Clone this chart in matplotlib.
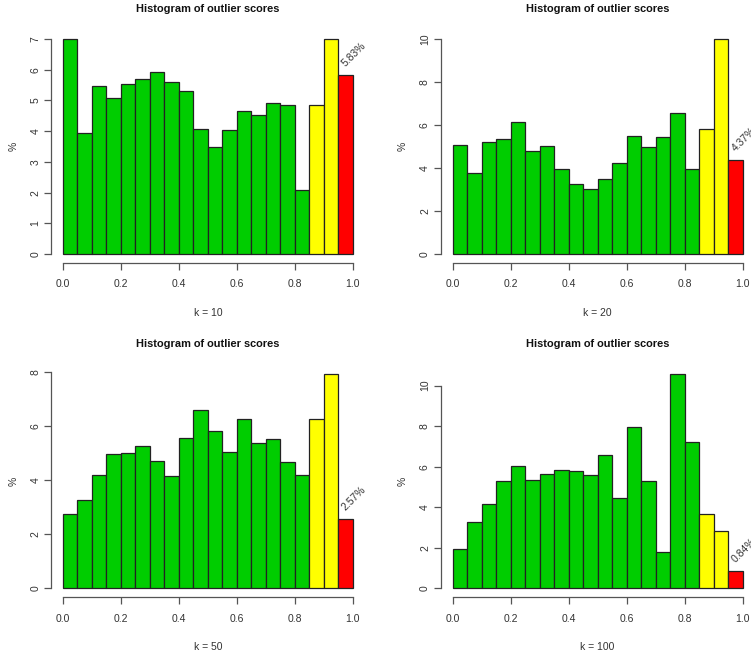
import numpy as np
import matplotlib
matplotlib.use("Agg")
import matplotlib.pyplot as plt

plt.rcParams['font.family'] = ['Liberation Sans', 'DejaVu Sans']

# bin edges of the score histogram (20 bins of width 0.05)
edges = np.linspace(0.0, 1.0, 21)

# percentage of points in each bin, for each k
pct_k10 = [7.00, 3.93, 5.47, 5.07, 5.53, 5.69, 5.91, 5.61, 5.31, 4.07,
           3.47, 4.03, 4.65, 4.52, 4.91, 4.84, 2.07, 4.84, 7.00, 5.83]
pct_k20 = [5.07, 3.78, 5.19, 5.36, 6.12, 4.78, 5.01, 3.95, 3.24, 3.04,
           3.47, 4.22, 5.47, 4.98, 5.44, 6.54, 3.95, 5.80, 10.00, 4.37]
pct_k50 = [2.75, 3.26, 4.19, 4.98, 5.01, 5.25, 4.70, 4.15, 5.56, 6.60,
           5.81, 5.04, 6.26, 5.38, 5.51, 4.67, 4.19, 6.27, 7.95, 2.57]
pct_k100 = [1.92, 3.26, 4.18, 5.28, 6.04, 5.33, 5.66, 5.82, 5.77, 5.58,
            6.55, 4.44, 7.94, 5.28, 1.79, 10.59, 7.20, 3.65, 2.83, 0.84]

k_values = [10, 20, 50, 100]
y_ticks = [[0, 1, 2, 3, 4, 5, 6, 7],
           [0, 2, 4, 6, 8, 10],
           [0, 2, 4, 6, 8],
           [0, 2, 4, 6, 8, 10]]

# colour by score range: normal / suspicious / outlier
bin_colors = ['#00CD00'] * 17 + ['#FFFF00'] * 2 + ['#FF0000']

fig = plt.figure(figsize=(7.51, 6.57), dpi=100)

# plot regions (left, bottom, width, height) in figure fraction
boxes = [(0.0684, 0.6003, 0.4170, 0.3534),
         (0.5873, 0.6003, 0.4170, 0.3534),
         (0.0684, 0.0915, 0.4170, 0.3530),
         (0.5873, 0.0915, 0.4170, 0.3530)]

axis_col = '#555555'
text_col = '#333333'

for box, pct, k, yt in zip(boxes, [pct_k10, pct_k20, pct_k50, pct_k100], k_values, y_ticks):
    ax = fig.add_axes(box)
    ax.bar(edges[:-1], pct, width=0.05, align='edge', color=bin_colors,
           edgecolor='#222222', linewidth=0.9)

    ymax = max(pct)
    ax.set_xlim(-0.04, 1.04)
    ax.set_ylim(-0.04 * ymax, 1.04 * ymax)

    # R-like axes: only bottom/left lines, spanning the tick range
    for side in ['top', 'right']:
        ax.spines[side].set_visible(False)
    ax.spines['bottom'].set_bounds(0, 1)
    ax.spines['left'].set_bounds(yt[0], yt[-1])
    for side in ['bottom', 'left']:
        ax.spines[side].set_color(axis_col)
        ax.spines[side].set_linewidth(0.9)

    ax.set_xticks([0.0, 0.2, 0.4, 0.6, 0.8, 1.0])
    ax.set_xticklabels(['0.0', '0.2', '0.4', '0.6', '0.8', '1.0'])
    ax.set_yticks(yt)
    ax.set_yticklabels([str(v) for v in yt], rotation=90, va='center')
    ax.tick_params(axis='both', direction='out', length=5, width=0.9,
                   color=axis_col, labelcolor=text_col, labelsize=7.5)
    ax.tick_params(axis='x', pad=7)
    ax.tick_params(axis='y', pad=3)

    ax.set_title('Histogram of outlier scores', fontsize=7.9,
                 fontweight='bold', color='#111111', pad=13)

    h = box[3] * 657
    ax.text(0.5, -50.0 / h, 'k = %d' % k, transform=ax.transAxes,
            ha='center', va='center', fontsize=7.5, color=text_col)
    ax.text(-38.0 / (box[2] * 751), 0.5, '%', transform=ax.transAxes,
            ha='center', va='center', rotation=90, fontsize=7.5, color=text_col)

    # share of points in the last bin
    ax.annotate('%.2f%%' % pct[-1], xy=(0.975, pct[-1]), xytext=(1, 5),
                textcoords='offset points', rotation=45, rotation_mode='anchor',
                ha='left', va='bottom', fontsize=7.5, color=text_col,
                annotation_clip=False)

plt.savefig('out.png', dpi=100)
